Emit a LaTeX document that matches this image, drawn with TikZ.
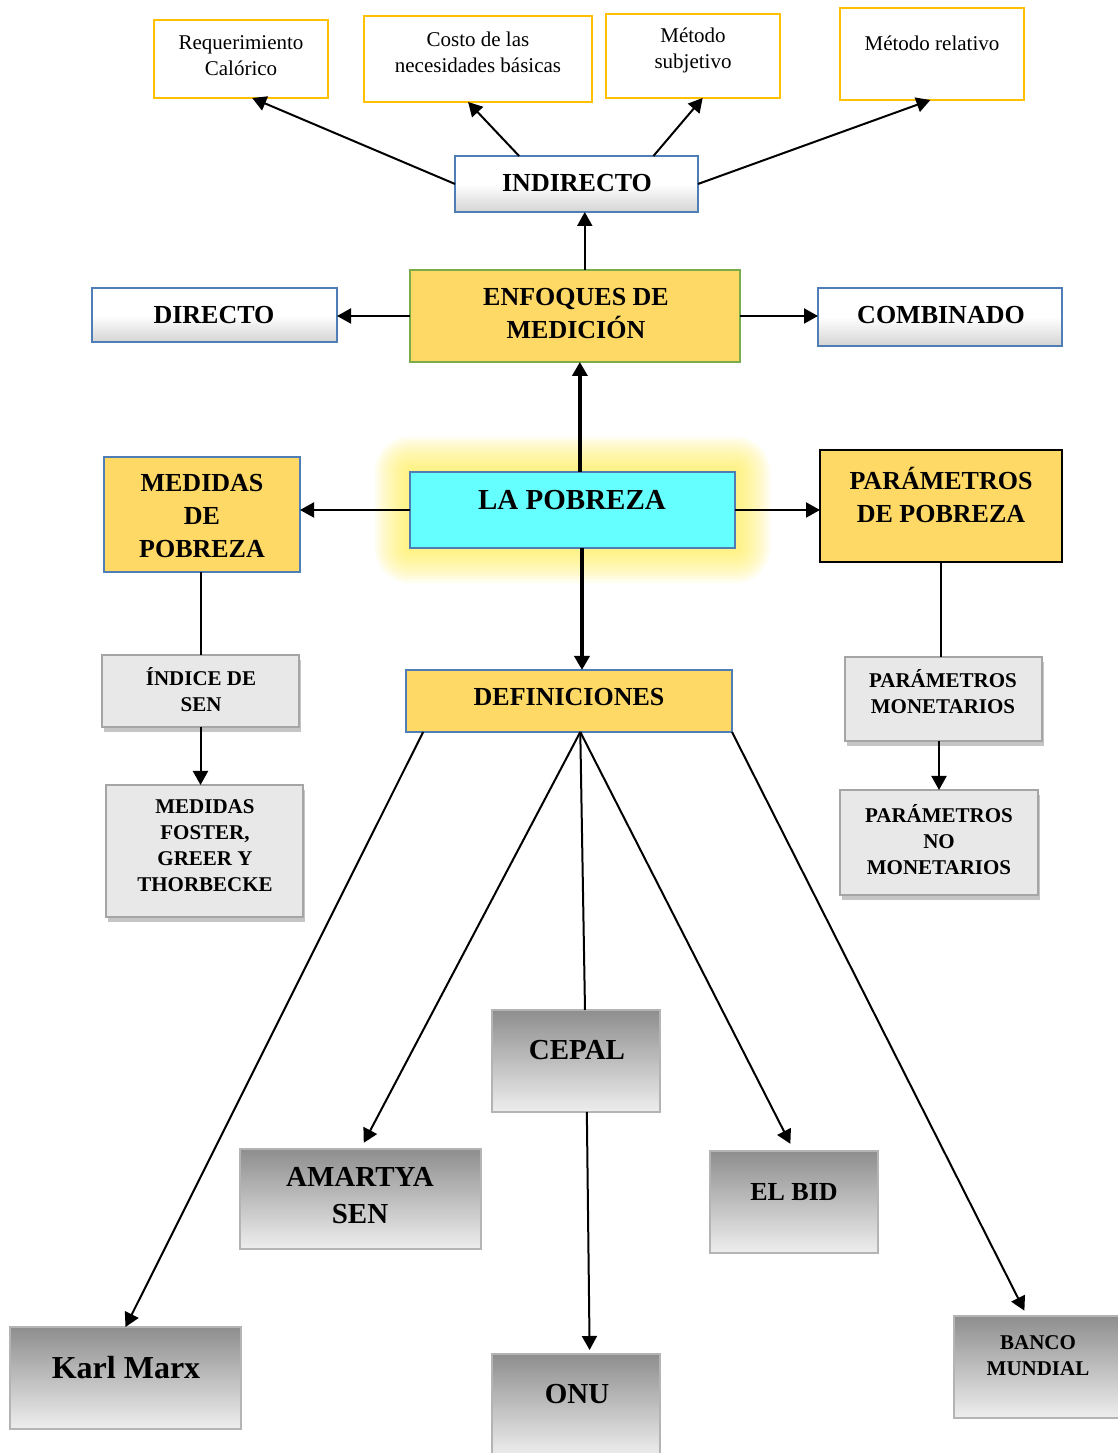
\documentclass[tikz,border=0pt]{standalone}
\usepackage{fontspec}
\setmainfont{Liberation Serif}
\usetikzlibrary{arrows.meta,shadows}

\begin{document}
\begin{tikzpicture}[x=1pt,y=1pt,
  goldbox/.style={draw=goldColor,line width=2.2pt,fill=white,inner sep=0pt,outer sep=0pt},
  bluebox/.style={draw=blueColor,line width=2pt,top color=white,bottom color=shadeColor,middle color=white,inner sep=0pt,outer sep=0pt},
  yellowbox/.style={draw=blueColor,line width=2pt,fill=yellowFill,inner sep=0pt,outer sep=0pt},
  greybox/.style={draw=greyLine,line width=1.5pt,fill=greyFill,inner sep=0pt,outer sep=0pt,drop shadow={shadow xshift=2pt,shadow yshift=-5pt,fill=black!45,opacity=0.5}},
  gradbox/.style={draw=gradLine,line width=1.5pt,top color=gradTop,bottom color=gradBottom,inner sep=0pt,outer sep=0pt},
  lbl/.style={inner sep=0pt,outer sep=0pt,align=center,text=black},
  fontS/.style={font=\fontsize{21}{26}\selectfont},
  fontSb/.style={font=\fontsize{21}{26}\selectfont\bfseries},
  fontMb/.style={font=\fontsize{26}{33}\selectfont\bfseries},
  fontLb/.style={font=\fontsize{29}{37}\selectfont\bfseries},
  link/.style={draw=black,line width=2pt,-{Triangle[length=14pt,width=15pt]}},
  thick link/.style={link,line width=3.5pt},
  joinline/.style={draw=black,line width=2pt}]
\definecolor{goldColor}{RGB}{255,192,0}
\definecolor{blueColor}{RGB}{79,126,182}
\definecolor{greenColor}{RGB}{122,173,74}
\definecolor{shadeColor}{RGB}{212,212,212}
\definecolor{yellowFill}{RGB}{255,217,102}
\definecolor{cyanFill}{RGB}{102,255,255}
\definecolor{glowColor}{RGB}{255,240,80}
\definecolor{greyFill}{RGB}{232,232,232}
\definecolor{greyLine}{RGB}{165,165,165}
\definecolor{gradLine}{RGB}{180,180,180}
\definecolor{gradTop}{RGB}{142,142,142}
\definecolor{gradBottom}{RGB}{238,238,238}

\path[use as bounding box,fill=white] (0,0) rectangle (1118,1453);
\begin{scope}
\path[clip] (0,0) rectangle (1118,1453);

\foreach \g [evaluate=\g as \r using 3.5*\g] in {1,...,10}
  \path[fill=glowColor,fill opacity=0.1,rounded corners=\r pt] ({410-\r},{905-\r}) rectangle ({735+\r},{981+\r});

\node[goldbox,minimum width=174,minimum height=78] (req) at (241,1394) {};
\node[lbl,fontS] (req-l) at (241,1397) {Requerimiento\\Calórico};

\node[goldbox,minimum width=228,minimum height=86] (costo) at (478,1394) {};
\node[lbl,fontS] (costo-l) at (478,1401) {Costo de las\\necesidades básicas};

\node[goldbox,minimum width=174,minimum height=84] (msub) at (693,1397) {};
\node[lbl,fontS] (msub-l) at (693,1403) {Método\\subjetivo};

\node[goldbox,minimum width=184,minimum height=92] (mrel) at (932,1399) {};
\node[lbl,fontS] (mrel-l) at (932,1410) {Método relativo};

\node[bluebox,minimum width=243,minimum height=56] (indirecto) at (576.5,1269) {};
\node[lbl,fontMb] (indirecto-l) at (577,1270) {INDIRECTO};

\node[bluebox,minimum width=245,minimum height=54] (directo) at (214.5,1138) {};
\node[lbl,fontMb] (directo-l) at (214,1138) {DIRECTO};

\node[yellowbox,draw=greenColor,minimum width=330,minimum height=92] (enfoques) at (575,1137) {};
\node[lbl,fontMb] (enfoques-l) at (576,1139.5) {ENFOQUES DE\\MEDICIÓN};

\node[bluebox,minimum width=244,minimum height=58] (combinado) at (940,1136) {};
\node[lbl,fontMb] (combinado-l) at (941,1138) {COMBINADO};

\node[yellowbox,minimum width=196,minimum height=115] (medidas) at (202,938.5) {};
\node[lbl,fontMb] (medidas-l) at (202,937) {MEDIDAS\\DE\\POBREZA};

\node[yellowbox,fill=cyanFill,minimum width=325,minimum height=76] (pobreza) at (572.5,943) {};
\node[lbl,fontLb] (pobreza-l) at (572,953) {LA POBREZA};

\node[yellowbox,draw=black,minimum width=242,minimum height=112] (parametros) at (941,947) {};
\node[lbl,fontMb] (parametros-l) at (941,958.5) {PARÁMETROS\\DE POBREZA};

\node[yellowbox,minimum width=326,minimum height=62] (definiciones) at (569,752) {};
\node[lbl,fontMb] (definiciones-l) at (569,756) {DEFINICIONES};

\node[greybox,minimum width=197,minimum height=72] (indice) at (200.5,762) {};
\node[lbl,fontSb] (indice-l) at (201,763) {ÍNDICE DE\\SEN};

\node[greybox,minimum width=197,minimum height=132] (foster) at (204.5,602) {};
\node[lbl,fontSb] (foster-l) at (205,607) {MEDIDAS\\FOSTER,\\GREER Y\\THORBECKE};

\node[greybox,minimum width=197,minimum height=84] (monet) at (943.5,754) {};
\node[lbl,fontSb] (monet-l) at (943,761) {PARÁMETROS\\MONETARIOS};

\node[greybox,minimum width=198,minimum height=105] (nomonet) at (939,610.5) {};
\node[lbl,fontSb] (nomonet-l) at (939,613.5) {PARÁMETROS\\NO\\MONETARIOS};

\node[gradbox,minimum width=168,minimum height=102] (cepal) at (576,392) {};
\node[lbl,fontLb] (cepal-l) at (577,403) {CEPAL};

\node[gradbox,minimum width=241,minimum height=100] (amartya) at (360.5,254) {};
\node[lbl,fontLb] (amartya-l) at (360,257.5) {AMARTYA\\SEN};

\node[gradbox,minimum width=168,minimum height=102] (elbid) at (794,251) {};
\node[lbl,fontMb] (elbid-l) at (794,261) {EL BID};

\node[gradbox,minimum width=231,minimum height=102] (marx) at (125.5,75) {};
\node[lbl,font=\fontsize{32}{38}\selectfont\bfseries] (marx-l) at (126,85) {Karl Marx};

\node[gradbox,minimum width=168,minimum height=102] (onu) at (576,48) {};
\node[lbl,fontLb] (onu-l) at (577,59) {ONU};

\node[gradbox,minimum width=166,minimum height=102] (banco) at (1037,86) {};
\node[lbl,fontSb] (banco-l) at (1038,97) {BANCO\\MUNDIAL};

\draw[link] (indirecto.west) -- (req.-74);

\draw[link] (indirecto.154) -- (costo.-103);

\draw[link] (indirecto.20) -- (msub.-77);

\draw[link] (indirecto.east) -- (mrel.-92);

\draw[link] (enfoques.78) -- (enfoques.78 |- indirecto.south);

\draw[link] (enfoques.west) -- (enfoques.west -| directo.east);

\draw[link] (enfoques.east) -- (enfoques.east -| combinado.west);

\draw[thick link] (pobreza.79) -- (pobreza.79 |- enfoques.south);

\draw[thick link] (pobreza.-76) -- (pobreza.-76 |- definiciones.north);

\draw[link] (pobreza.west) -- (pobreza.west -| medidas.east);

\draw[link] (pobreza.east) -- (pobreza.east -| parametros.west);

\draw[joinline] (medidas.south -| indice.north) -- (indice.north);

\draw[link] (indice.south) -- (indice.south |- foster.north);

\draw[joinline] (parametros.south) -- (parametros.south |- monet.north);

\draw[link] (monet.south -| nomonet.north) -- (nomonet.north);

\draw[link] (definiciones.-168) -- (marx.north);

\draw[link,shorten >=7pt] (definiciones.-70) -- (amartya.north);

\draw[joinline] (definiciones.-70) -- (cepal.80);

\draw[link,shorten >=4pt] (cepal.-78) -- (onu.75);

\draw[link,shorten >=8pt] (definiciones.-70) -- (elbid.north);

\draw[link,shorten >=6pt] (definiciones.south east) -- (banco.101);
\end{scope}
\end{tikzpicture}
\end{document}
